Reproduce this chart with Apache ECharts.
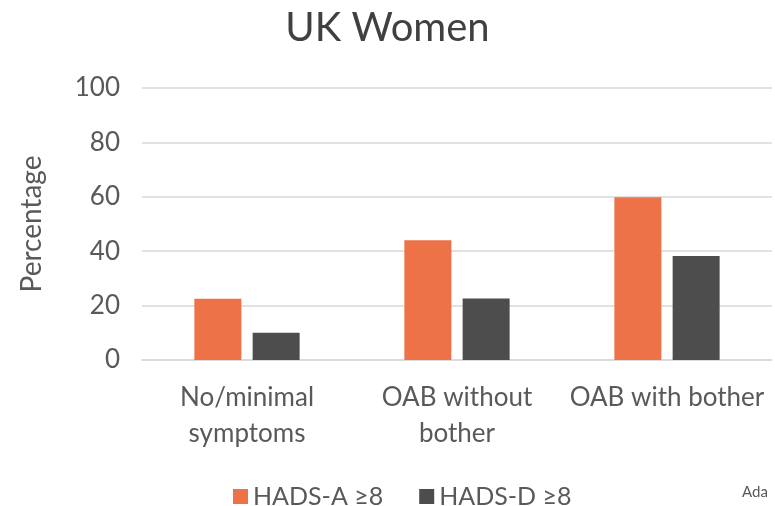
<!DOCTYPE html>
<html>
<head>
<meta charset="utf-8">
<script src="https://cdn.jsdelivr.net/npm/echarts@6/dist/echarts.min.js"></script>
<style>
  html, body { margin: 0; padding: 0; background: #fff; }
  #chart { width: 775px; height: 506px; }
</style>
</head>
<body>
<div id="chart"></div>
<script>
var categories = ['No/minimal\nsymptoms', 'OAB without\nbother', 'OAB with bother']
var hadsA = [22.5, 44, 59.8]
var hadsD = [10, 22.6, 38.2]
var yTicks = [0, 20, 40, 60, 80, 100]

var font = 'Lato'
var chart = echarts.init(document.getElementById('chart'))

var option = {
  animation: false,
  title: {
    text: 'UK Women',
    left: 'center',
    top: 3,
    textStyle: { fontFamily: font, fontSize: 40, fontWeight: 'normal', color: '#404040' }
  },
  legend: {
    data: ['HADS-A ≥8', 'HADS-D ≥8'],
    left: 228,
    top: 479,
    itemWidth: 15,
    itemHeight: 15,
    itemGap: 36,
    icon: 'rect',
    textStyle: { fontFamily: font, fontSize: 25, color: '#595959' }
  },
  graphic: [{
    type: 'text',
    left: 742,
    top: 485,
    style: { text: 'Ada', font: '15px Lato', fill: '#595959' }
  }],
  grid: {
    left: 142,
    right: 3,
    top: 88,
    bottom: 146
  },
  xAxis: {
    type: 'category',
    data: categories,
    axisLine: { show: true, lineStyle: { color: '#d9d9d9', width: 1.5 } },
    axisTick: { show: false },
    axisLabel: {
      fontFamily: font,
      fontSize: 26,
      color: '#595959',
      lineHeight: 36,
      margin: 20,
      interval: 0
    }
  },
  yAxis: {
    type: 'value',
    min: yTicks[0],
    max: yTicks[yTicks.length - 1],
    interval: 20,
    name: 'Percentage',
    nameLocation: 'middle',
    nameGap: 96,
    nameTextStyle: { fontFamily: font, fontSize: 28, color: '#595959' },
    axisLine: { show: false },
    axisTick: { show: false },
    axisLabel: { fontFamily: font, fontSize: 26, color: '#595959', margin: 22 },
    splitLine: { lineStyle: { color: '#d9d9d9', width: 1.5 } }
  },
  series: [
    {
      name: 'HADS-A ≥8',
      type: 'bar',
      data: hadsA,
      barWidth: 47,
      barGap: '24%',
      itemStyle: { color: '#ED7248' }
    },
    {
      name: 'HADS-D ≥8',
      type: 'bar',
      data: hadsD,
      barWidth: 47,
      itemStyle: { color: '#4D4D4D' }
    }
  ]
}
chart.setOption(option)
</script>
</body>
</html>
